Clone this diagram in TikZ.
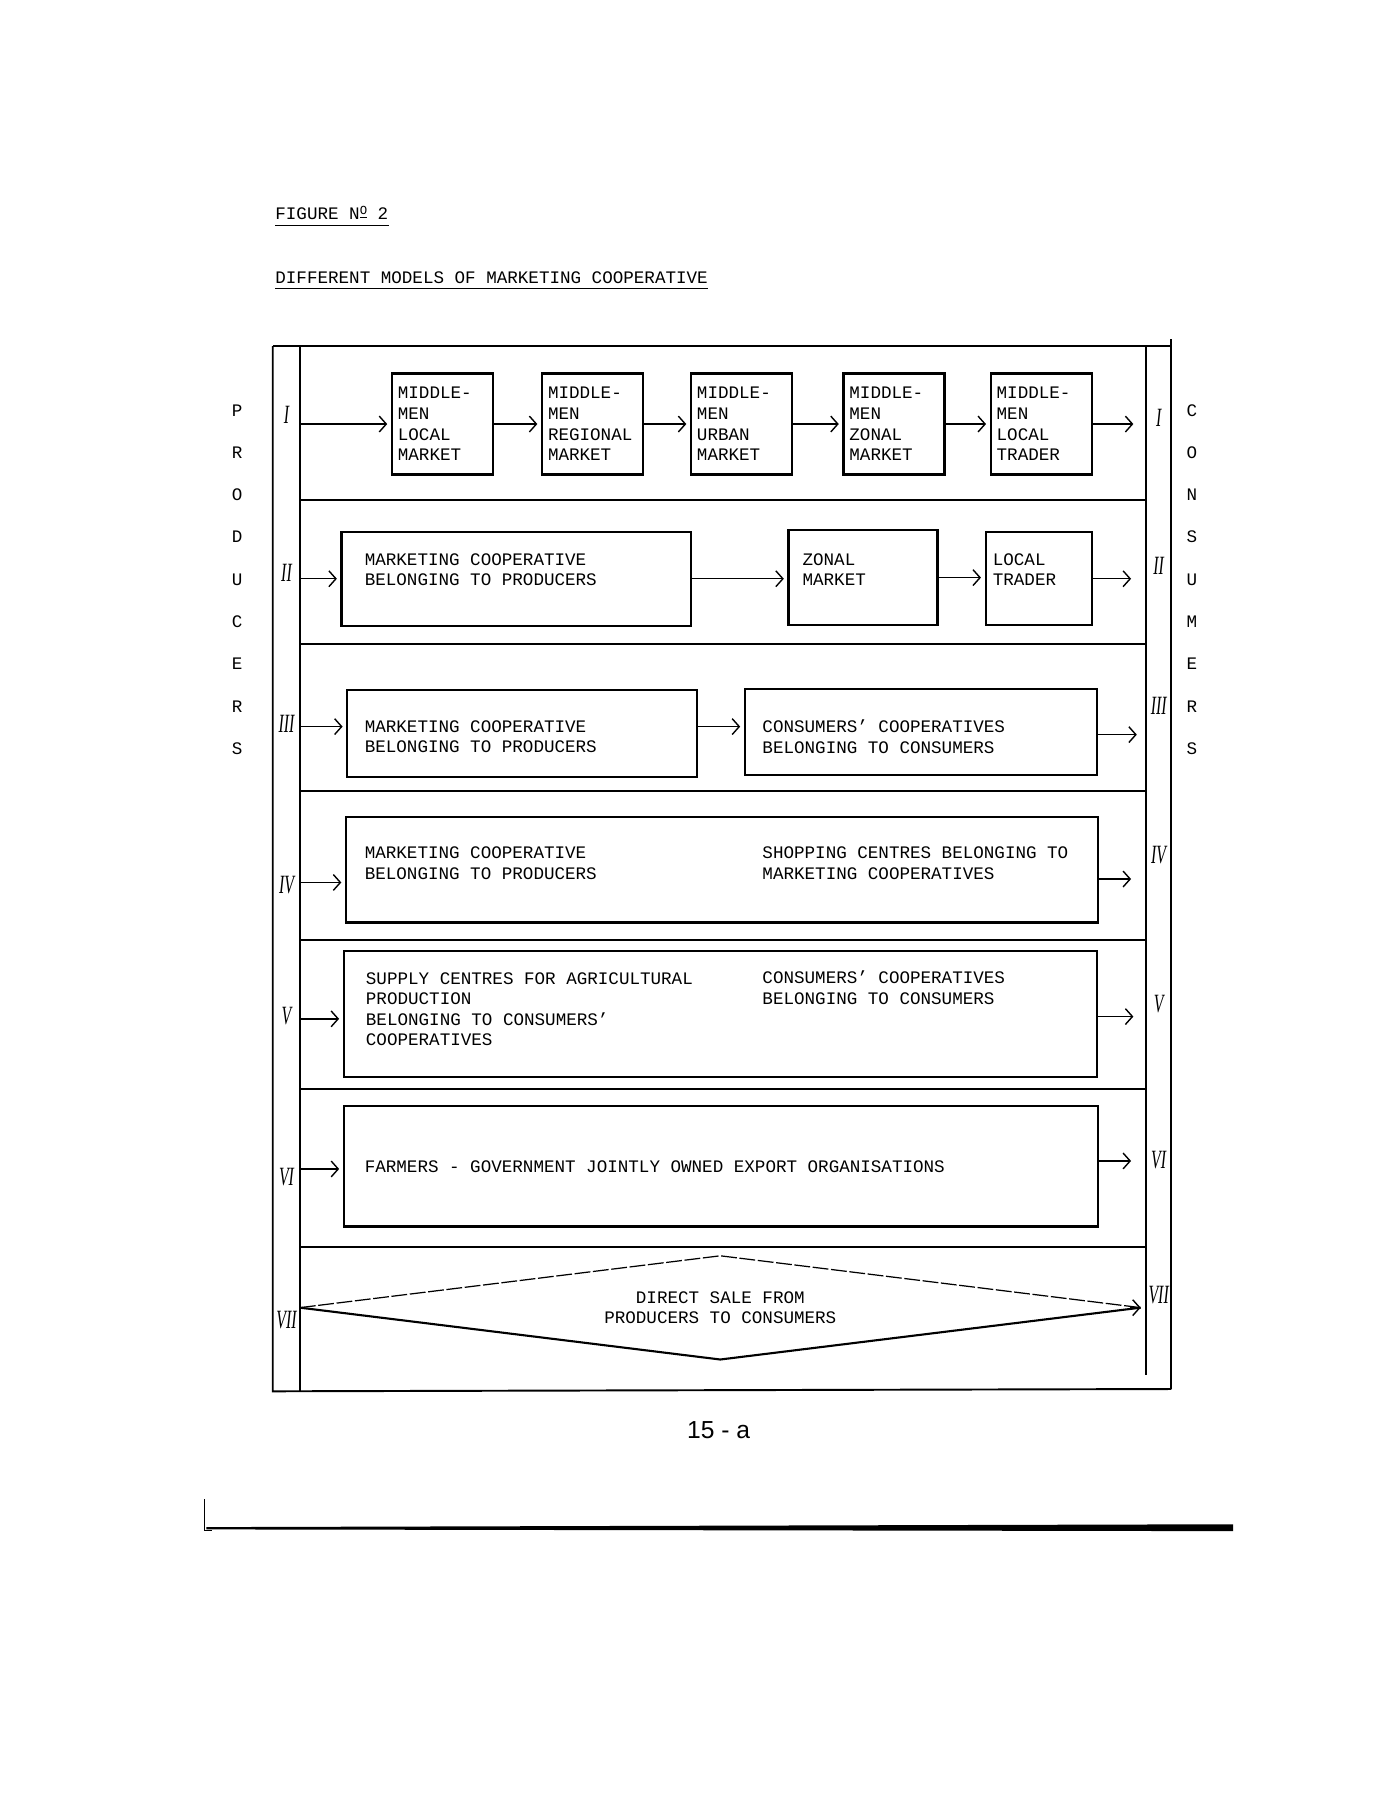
\documentclass[tikz,border=0pt]{standalone}
\usepackage{fontspec}
\setmainfont{Liberation Mono}
\newfontfamily\handfont{Liberation Serif}
\newfontfamily\pagefont{Liberation Sans}
\usetikzlibrary{arrows.meta,shapes.geometric}

\newcommand\upx{0.02292cm}

\tikzset{
  frame/.style={line width=1.1pt},
  midbox/.style={draw, line width=1.3pt, minimum width=2.02cm, minimum height=2.02cm,
    text width=1.78cm, inner xsep=0.12cm, align=left},
  coopbox/.style 2 args={draw, line width=1.3pt, minimum width=#1, minimum height=#2, inner sep=0pt},
  txt/.style={anchor=west, align=left, inner sep=0pt},
  flow/.style={-{Straight Barb[length=4pt,width=9pt]}, line width=0.8pt, shorten >=2pt},
  rnum/.style={font=\handfont\itshape\fontsize{15}{15}\selectfont, inner sep=0pt, xscale=0.6, transform shape},
  vlet/.style={inner sep=0pt}
}

\begin{document}
\begin{tikzpicture}[x=\upx, y=-\upx, every node/.style={font=\fontsize{10}{11.7}\selectfont}]
  \useasboundingbox (0,0) rectangle (1212,1568);

  % Titles
  \node[anchor=west, inner sep=0pt] (fig) at (240,186) {FIGURE N\raisebox{0.55ex}{\underline{\scriptsize O}} 2};
  \draw[line width=0.6pt] ([yshift=-3pt]fig.south west) -- ([yshift=-3pt]fig.south east);
  \node[anchor=west, inner sep=0pt] (title) at (240,242) {DIFFERENT MODELS OF MARKETING COOPERATIVE};
  \draw[line width=0.6pt] ([yshift=-3pt]title.south west) -- ([yshift=-3pt]title.south east);

  % Frame
  \draw[frame] (238,302) -- (1022,302);
  \draw[frame] (238,302) -- (238,1214) -- (1022,1212);
  \draw[frame] (262,302) -- (262,1214);
  \draw[frame] (1000,302) -- (1000,1200);
  \draw[frame] (1022,296) -- (1022,1212);
  \foreach \y in {436,562,690,820,950,1088}
    \draw[frame] (262,\y) -- (1000,\y);

  % Producers / consumers
  \foreach \l [count=\i from 0] in {P,R,O,D,U,C,E,R,S}
    \node[vlet] (prod\i) at (207,{358+36.9*\i}) {\l};
  \foreach \l [count=\i from 0] in {C,O,N,S,U,M,E,R,S}
    \node[vlet] (cons\i) at (1040,{358+36.9*\i}) {\l};

  % Row labels
  \node[rnum] (lI) at (250,362) {I};
  \node[rnum] (lII) at (250,500) {II};
  \node[rnum] (lIII) at (250,632) {III};
  \node[rnum] (lIV) at (250,772) {IV};
  \node[rnum] (lV) at (250,887) {V};
  \node[rnum] (lVI) at (250,1027) {VI};
  \node[rnum] (lVII) at (250,1152) {VII};
  \node[rnum] (rI) at (1011,365) {I};
  \node[rnum] (rII) at (1011,494) {II};
  \node[rnum] (rIII) at (1011,616) {III};
  \node[rnum] (rIV) at (1011,746) {IV};
  \node[rnum] (rV) at (1011,876) {V};
  \node[rnum] (rVI) at (1011,1012) {VI};
  \node[rnum] (rVII) at (1011,1130) {VII};

  % Model I: middlemen chain
  \coordinate (in1) at (262,370);
  \coordinate (out1) at (992,370);
  \node[midbox] (mlocal) at (386,370) {MIDDLE-\\MEN\\LOCAL\\MARKET};
  \node[midbox] (mregion) at (517,370) {MIDDLE-\\MEN\\REGIONAL\\MARKET};
  \node[midbox] (murban) at (647,370) {MIDDLE-\\MEN\\URBAN\\MARKET};
  \node[midbox] (mzonal) at (780,370) {MIDDLE-\\MEN\\ZONAL\\MARKET};
  \node[midbox] (mtrader) at (908.5,370) {MIDDLE-\\MEN\\LOCAL\\TRADER};
  \draw[flow] (in1) -- (mlocal.west);
  \draw[flow] (mlocal.east) -- (mregion.west);
  \draw[flow] (mregion.east) -- (murban.west);
  \draw[flow] (murban.east) -- (mzonal.west);
  \draw[flow] (mzonal.east) -- (mtrader.west);
  \draw[flow] (mtrader.east) -- (out1);

  % Model II
  \coordinate (in2) at (262,505);
  \coordinate (out2) at (990,505);
  \node[coopbox={6.99cm}{1.88cm}] (coopA) at (450.5,505) {};
  \node[txt] (coopAt) at (318,497) {MARKETING COOPERATIVE\\BELONGING TO PRODUCERS};
  \node[coopbox={2.98cm}{1.90cm}] (zonal) at (753,504) {};
  \node[txt] (zonalt) at (700,497) {ZONAL\\MARKET};
  \node[coopbox={2.13cm}{1.86cm}] (trader) at (906.5,504.5) {};
  \node[txt] (tradert) at (866,497) {LOCAL\\TRADER};
  \draw[flow] (in2) -- (in2 -| coopA.west);
  \draw[flow] (coopA.east) -- (coopA.east -| zonal.west);
  \draw[flow] (zonal.east) -- (zonal.east -| trader.west);
  \draw[flow] (trader.east |- out2) -- (out2);

  % Model III
  \coordinate (in3) at (262,634);
  \coordinate (out3) at (995,641);
  \node[coopbox={6.99cm}{1.74cm}] (prodcoop) at (455.5,640) {};
  \node[txt] (prodcoopt) at (318,643) {MARKETING COOPERATIVE\\BELONGING TO PRODUCERS};
  \node[coopbox={7.04cm}{1.72cm}] (conscoop) at (803.5,638.5) {};
  \node[txt] (conscoopt) at (665,643) {CONSUMERS' COOPERATIVES\\BELONGING TO CONSUMERS};
  \draw[flow] (in3) -- (in3 -| prodcoop.west);
  \draw[flow] (prodcoop.east |- in3) -- (in3 -| conscoop.west);
  \draw[flow] (conscoop.east |- out3) -- (out3);

  % Model IV
  \coordinate (in4) at (262,770);
  \coordinate (out4) at (990,767);
  \node[coopbox={15.04cm}{2.11cm}] (shopbox) at (630,759) {};
  \node[txt] (shopl) at (318,753) {MARKETING COOPERATIVE\\BELONGING TO PRODUCERS};
  \node[txt] (shopr) at (665,753) {SHOPPING CENTRES BELONGING TO\\MARKETING COOPERATIVES};
  \draw[flow] (in4) -- (in4 -| shopbox.west);
  \draw[flow] (shopbox.east |- out4) -- (out4);

  % Model V
  \coordinate (in5) at (262,889);
  \coordinate (out5) at (992,887);
  \node[coopbox={15.06cm}{2.52cm}] (supplybox) at (628.5,885) {};
  \node[txt] (supplyl) at (319,880.5) {SUPPLY CENTRES FOR AGRICULTURAL\\PRODUCTION\\BELONGING TO CONSUMERS'\\COOPERATIVES};
  \node[txt] (supplyr) at (665,862) {CONSUMERS' COOPERATIVES\\BELONGING TO CONSUMERS};
  \draw[flow] (in5) -- (in5 -| supplybox.west);
  \draw[flow] (supplybox.east |- out5) -- (out5);

  % Model VI
  \coordinate (in6) at (262,1020);
  \coordinate (out6) at (990,1013);
  \node[coopbox={15.08cm}{2.41cm}] (exportbox) at (629,1017.5) {};
  \node[txt] (exportt) at (318,1018) {FARMERS - GOVERNMENT JOINTLY OWNED EXPORT ORGANISATIONS};
  \draw[flow] (in6) -- (in6 -| exportbox.west);
  \draw[flow] (exportbox.east |- out6) -- (out6);

  % Model VII: direct sale
  \node[diamond, aspect=8, inner sep=0pt, align=center, minimum width=16.8cm, minimum height=2.06cm]
    (dsale) at (628.5,1141) {DIRECT SALE FROM\\PRODUCERS TO CONSUMERS};
  \draw[line width=0.7pt, dash pattern=on 9pt off 1.5pt] (dsale.west) -- (dsale.north) -- (dsale.east);
  \draw[line width=1.2pt] (dsale.west) -- (dsale.south) -- (dsale.east);
  \draw[flow, shorten >=0pt] ([xshift=-6pt]dsale.east) -- (dsale.east);

  % Page number and rule
  \node[font=\pagefont\fontsize{14}{14}\selectfont] (pg) at (627,1248) {15 - a};
  \fill (180,1332.5) -- (1076,1330) -- (1076,1336) -- (180,1334.5) -- cycle;
  \draw[line width=0.4pt] (178,1308) -- (178,1335) -- (185,1335);
\end{tikzpicture}
\end{document}
